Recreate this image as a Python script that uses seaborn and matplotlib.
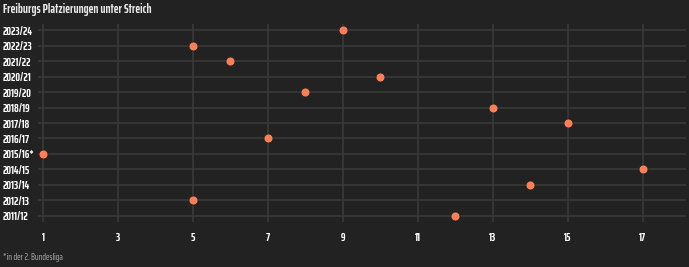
import matplotlib
matplotlib.use("Agg")
import matplotlib.pyplot as plt
import seaborn as sns
import pandas as pd

seasons = ["2011/12", "2012/13", "2013/14", "2014/15", "2015/16*", "2016/17",
           "2017/18", "2018/19", "2019/20", "2020/21", "2021/22", "2022/23", "2023/24"]
placements = [12, 5, 14, 17, 1, 7, 15, 13, 8, 10, 6, 5, 9]
x_ticks = [1, 3, 5, 7, 9, 11, 13, 15, 17]

df = pd.DataFrame({"Saison": seasons, "Platz": placements})

sns.set_theme(style="dark")
plt.rcParams['font.family'] = ['Saira ExtraCondensed', 'DejaVu Sans']

bg = "#222222"
fig = plt.figure(figsize=(6.89, 2.67), dpi=100, facecolor=bg)
ax = fig.add_axes([38/689, 1-222/267, (686-38)/689, (222-24)/267])
ax.set_facecolor(bg)

ax.set_axisbelow(True)
sns.scatterplot(data=df, x="Platz", y="Saison", ax=ax, color="#fb7f58",
                s=42, edgecolor="#222222", linewidth=0.6, zorder=3)

ax.set_xlim(0.867, 18.15)
ax.set_ylim(-0.39, len(seasons) - 1 + 0.39)
ax.set_xticks(x_ticks)
ax.set_xticklabels([str(t) for t in x_ticks])
ax.set_yticks(range(len(seasons)))
ax.set_yticklabels(seasons)
ax.grid(True, color="#3b3b3b", linewidth=1.1)
for s in ax.spines.values():
    s.set_visible(False)
ax.set_xlabel("")
ax.set_ylabel("")
ax.tick_params(axis="both", length=0, colors="white")
ax.tick_params(axis="x", pad=7)
for lab in ax.get_xticklabels():
    lab.set_fontsize(8.3)
    lab.set_fontweight("bold")
    lab.set_color("white")
for lab in ax.get_yticklabels():
    lab.set_fontsize(8.3)
    lab.set_fontweight("bold")
    lab.set_ha("left")
    lab.set_color("white")
ax.tick_params(axis="y", pad=25.5)

fig.text(3/689, 1-9/267, "Freiburgs Platzierungen unter Streich", color="#e8e8e8",
         fontsize=9.3, fontweight="bold", va="center", ha="left")
fig.text(3/689, 1-258/267, "*in der 2. Bundesliga", color="#b0b0b0",
         fontsize=6.8, va="center", ha="left")

fig.savefig("out.png", dpi=100, facecolor=bg)
